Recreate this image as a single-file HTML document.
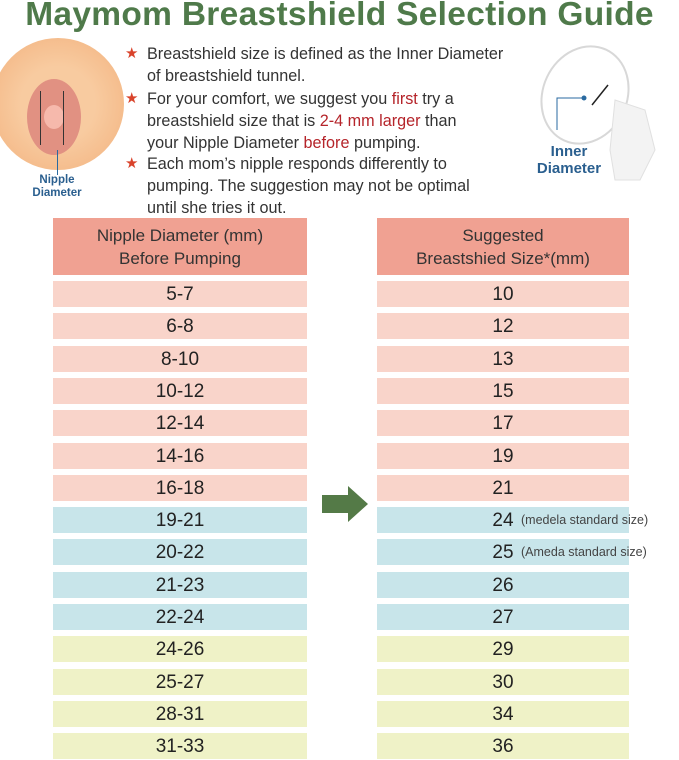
<!DOCTYPE html>
<html><head><style>
body{margin:0;width:679px;height:759px;background:#fff;position:relative;overflow:hidden;font-family:"Liberation Sans",sans-serif;}
.a{position:absolute;}
.t{left:0;width:679px;top:-4px;text-align:center;font-size:33.5px;font-weight:bold;color:#4f7a4a;white-space:nowrap;letter-spacing:0.3px}
.b{left:147px;font-size:16.2px;color:#333;line-height:22px;white-space:nowrap}
.st{color:#d9432b;position:absolute;left:-22px;font-size:15px}
.r{color:#b5242a}
.row{position:absolute;height:26px;line-height:27px;text-align:center;font-size:19px;color:#222;}
.L{left:53px;width:254px}.R{left:377px;width:252px}
.p{background:#f9d4ca}.c{background:#c8e5ea}.y{background:#eff2c7}
.h{background:#f0a192;height:57px;top:218px;font-size:17px;line-height:23px;color:#333;padding-top:6px;box-sizing:border-box}
.n{position:absolute;left:144px;font-size:12.5px;color:#444;white-space:nowrap;line-height:27px}
</style></head><body>
<div class="a t">Maymom Breastshield Selection Guide</div>
<div class="a" style="left:-8px;top:38px;width:132px;height:132px;border-radius:50%;background:radial-gradient(circle,#f8cba0 40%,#f2b07c 100%)"></div>
<div class="a" style="left:27px;top:79px;width:54px;height:76px;border-radius:50%;background:#e19182"></div>
<div class="a" style="left:44px;top:105px;width:20px;height:24px;border-radius:50%;background:#f6b9ac"></div>
<div class="a" style="left:40px;top:91px;width:1px;height:54px;background:#333"></div>
<div class="a" style="left:63px;top:91px;width:1px;height:54px;background:#333"></div>
<div class="a" style="left:57px;top:150px;width:1px;height:25px;background:#2a6aa0"></div>
<div class="a" style="left:25px;top:174px;width:64px;text-align:center;font-size:11.5px;font-weight:bold;color:#2a5f8f;line-height:13px">Nipple<br>Diameter</div>
<div class="a b" style="top:43px"><span class="st">★</span>Breastshield size is defined as the Inner Diameter<br>of breastshield tunnel.</div>
<div class="a b" style="top:88px"><span class="st">★</span>For your comfort, we suggest you <span class="r">first</span> try a<br>breastshield size that is <span class="r">2-4 mm larger</span> than<br>your Nipple Diameter <span class="r">before</span> pumping.</div>
<div class="a b" style="top:153px"><span class="st">★</span>Each mom’s nipple responds differently to<br>pumping. The suggestion may not be optimal<br>until she tries it out.</div>
<svg class="a" style="left:520px;top:40px" width="159" height="150">
<ellipse cx="65" cy="55" rx="42" ry="50" fill="none" stroke="#d8d8d8" stroke-width="2" transform="rotate(25 65 55)"/>
<path d="M95 60 L125 70 L135 110 L120 140 L95 140 L90 110Z" fill="#f3f3f3" stroke="#e0e0e0"/>
<line x1="72" y1="65" x2="88" y2="45" stroke="#222" stroke-width="1.5"/>
<polyline points="37,90 37,58 64,58" fill="none" stroke="#2a6aa0"/><circle cx="64" cy="58" r="2.5" fill="#2a6aa0"/>
</svg>
<div class="a" style="left:531px;top:143px;width:76px;text-align:center;font-size:15px;font-weight:bold;color:#2a5f8f;line-height:17px">Inner<br>Diameter</div>
<div class="row L h">Nipple Diameter (mm)<br>Before Pumping</div>
<div class="row R h">Suggested<br>Breastshied Size*(mm)</div>
<svg class="a" style="left:322px;top:486px" width="46" height="36"><polygon points="0,9 26,9 26,0 46,18 26,36 26,27 0,27" fill="#547a47"/></svg>
<div id="rows"></div>
<script>
var d=[["5-7","10","p"],["6-8","12","p"],["8-10","13","p"],["10-12","15","p"],["12-14","17","p"],["14-16","19","p"],["16-18","21","p"],["19-21","24","c","(medela standard size)"],["20-22","25","c","(Ameda standard size)"],["21-23","26","c"],["22-24","27","c"],["24-26","29","y"],["25-27","30","y"],["28-31","34","y"],["31-33","36","y"]];
var h="";d.forEach(function(r,i){var t=281+i*32.3;h+='<div class="row L '+r[2]+'" style="top:'+t+'px">'+r[0]+'</div><div class="row R '+r[2]+'" style="top:'+t+'px">'+r[1]+(r[3]?'<span class="n">'+r[3]+'</span>':'')+'</div>';});
document.getElementById("rows").outerHTML=h;
</script>
</body></html>
